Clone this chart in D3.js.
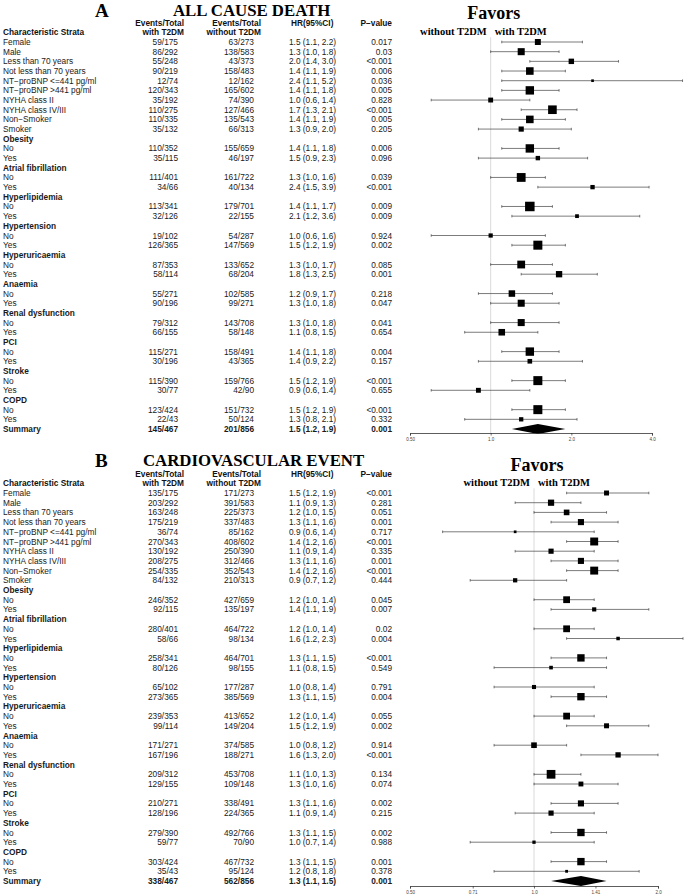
<!DOCTYPE html>
<html>
<head>
<meta charset="utf-8">
<script src="https://cdn.jsdelivr.net/npm/d3@7"></script>
<style>
  body { margin: 0; background: #fff; }
  svg { display: block; }
</style>
</head>
<body>
<script>
/* forest plots: all cause death (A) and cardiovascular event (B) */

// row labels, shared by both panels (null values below mark a group heading)
const strata = ["Female", "Male", "Less than 70 years", "Not less than 70 years",
	"NT\u2212proBNP <=441 pg/ml", "NT\u2212proBNP >441 pg/ml", "NYHA class II", "NYHA class IV/III",
	"Non\u2212Smoker", "Smoker",
	"Obesity", "No", "Yes",
	"Atrial fibrillation", "No", "Yes",
	"Hyperlipidemia", "No", "Yes",
	"Hypertension", "No", "Yes",
	"Hyperuricaemia", "No", "Yes",
	"Anaemia", "No", "Yes",
	"Renal dysfunction", "No", "Yes",
	"PCI", "No", "Yes",
	"Stroke", "No", "Yes",
	"COPD", "No", "Yes",
	"Summary"];

// A: all cause death
const withA = ["59/175", "86/292", "55/248", "90/219", "12/74", "120/343", "35/192", "110/275", "110/335", "35/132",
	null, "110/352", "35/115", null, "111/401", "34/66", null, "113/341", "32/126", null, "19/102", "126/365",
	null, "87/353", "58/114", null, "55/271", "90/196", null, "79/312", "66/155", null, "115/271", "30/196",
	null, "115/390", "30/77", null, "123/424", "22/43", "145/467"];
const withoutA = ["63/273", "138/583", "43/373", "158/483", "12/162", "165/602", "74/390", "127/466", "135/543", "66/313",
	null, "155/659", "46/197", null, "161/722", "40/134", null, "179/701", "22/155", null, "54/287", "147/569",
	null, "133/652", "68/204", null, "102/585", "99/271", null, "143/708", "58/148", null, "158/491", "43/365",
	null, "159/766", "42/90", null, "151/732", "50/124", "201/856"];
const hrA = [1.5, 1.3, 2.0, 1.4, 2.4, 1.4, 1.0, 1.7, 1.4, 1.3,
	null, 1.4, 1.5, null, 1.3, 2.4, null, 1.4, 2.1, null, 1.0, 1.5, null, 1.3, 1.8,
	null, 1.2, 1.3, null, 1.3, 1.1, null, 1.4, 1.4, null, 1.5, 0.9, null, 1.5, 1.3, 1.5];
const lowA = [1.1, 1.0, 1.4, 1.1, 1.1, 1.1, 0.6, 1.3, 1.1, 0.9,
	null, 1.1, 0.9, null, 1.0, 1.5, null, 1.1, 1.2, null, 0.6, 1.2, null, 1.0, 1.3,
	null, 0.9, 1.0, null, 1.0, 0.8, null, 1.1, 0.9, null, 1.2, 0.6, null, 1.2, 0.8, 1.2];
const highA = [2.2, 1.8, 3.0, 1.9, 5.2, 1.8, 1.4, 2.1, 1.9, 2.0,
	null, 1.8, 2.3, null, 1.6, 3.9, null, 1.7, 3.6, null, 1.6, 1.9, null, 1.7, 2.5,
	null, 1.7, 1.8, null, 1.8, 1.5, null, 1.8, 2.2, null, 1.9, 1.4, null, 1.9, 2.1, 1.9];
const pA = ["0.017", "0.03", "<0.001", "0.006", "0.036", "0.005", "0.828", "<0.001", "0.005", "0.205",
	null, "0.006", "0.096", null, "0.039", "<0.001", null, "0.009", "0.009", null, "0.924", "0.002",
	null, "0.085", "0.001", null, "0.218", "0.047", null, "0.041", "0.654", null, "0.004", "0.157",
	null, "<0.001", "0.655", null, "<0.001", "0.332", "0.001"];
const ticksA = [0.5, 1, 2, 4];
const tickLabelsA = ["0.50", "1.0", "2.0", "4.0"];

// B: cardiovascular event
const withB = ["135/175", "203/292", "163/248", "175/219", "36/74", "270/343", "130/192", "208/275", "254/335", "84/132",
	null, "246/352", "92/115", null, "280/401", "58/66", null, "258/341", "80/126", null, "65/102", "273/365",
	null, "239/353", "99/114", null, "171/271", "167/196", null, "209/312", "129/155", null, "210/271", "128/196",
	null, "279/390", "59/77", null, "303/424", "35/43", "338/467"];
const withoutB = ["171/273", "391/583", "225/373", "337/483", "85/162", "408/602", "250/390", "312/466", "352/543", "210/313",
	null, "427/659", "135/197", null, "464/722", "98/134", null, "464/701", "98/155", null, "177/287", "385/569",
	null, "413/652", "149/204", null, "374/585", "188/271", null, "453/708", "109/148", null, "338/491", "224/365",
	null, "492/766", "70/90", null, "467/732", "95/124", "562/856"];
const hrB = [1.5, 1.1, 1.2, 1.3, 0.9, 1.4, 1.1, 1.3, 1.4, 0.9,
	null, 1.2, 1.4, null, 1.2, 1.6, null, 1.3, 1.1, null, 1.0, 1.3, null, 1.2, 1.5,
	null, 1.0, 1.6, null, 1.1, 1.3, null, 1.3, 1.1, null, 1.3, 1.0, null, 1.3, 1.2, 1.3];
const lowB = [1.2, 0.9, 1.0, 1.1, 0.6, 1.2, 0.9, 1.1, 1.2, 0.7,
	null, 1.0, 1.1, null, 1.0, 1.2, null, 1.1, 0.8, null, 0.8, 1.1, null, 1.0, 1.2,
	null, 0.8, 1.3, null, 1.0, 1.0, null, 1.1, 0.9, null, 1.1, 0.7, null, 1.1, 0.8, 1.1];
const highB = [1.9, 1.3, 1.5, 1.6, 1.4, 1.6, 1.4, 1.6, 1.6, 1.2,
	null, 1.4, 1.9, null, 1.4, 2.3, null, 1.5, 1.5, null, 1.4, 1.5, null, 1.4, 1.9,
	null, 1.2, 2.0, null, 1.3, 1.6, null, 1.6, 1.4, null, 1.5, 1.4, null, 1.5, 1.8, 1.5];
const pB = ["<0.001", "0.281", "0.051", "0.001", "0.717", "<0.001", "0.335", "0.001", "<0.001", "0.444",
	null, "0.045", "0.007", null, "0.02", "0.004", null, "<0.001", "0.549", null, "0.791", "0.004",
	null, "0.055", "0.002", null, "0.914", "<0.001", null, "0.134", "0.074", null, "0.002", "0.215",
	null, "0.002", "0.988", null, "0.001", "0.378", "0.001"];
const ticksB = [0.5, 0.71, 1, 1.41, 2];
const tickLabelsB = ["0.50", "0.71", "1.0", "1.41", "2.0"];

const W = 685, H = 895;
const SANS = "'Liberation Sans', Arial, sans-serif";
const SERIF = "'Liberation Serif', 'Times New Roman', serif";

const svg = d3.select("body").append("svg")
	.attr("width", W).attr("height", H)
	.style("background", "#fff");

function drawPanel(p) {
	const rows = strata.map((name, i) => ({
		name: name,
		i: i,
		summary: i === strata.length - 1,
		head: p.hr[i] === null,
		w: p.withT[i], wo: p.withoutT[i],
		hr: p.hr[i], lo: p.low[i], hi: p.high[i], pv: p.pv[i]
	}));

	// row positions
	const y = d3.scaleLinear().domain([0, strata.length - 1]).range([p.firstY, p.lastY]);
	const x = d3.scaleLog().base(2).domain(p.domain).range(p.range);

	const g = svg.append("g");

	// titles
	g.append("text").attr("x", 95).attr("y", p.titleY + 1)
		.style("font-family", SERIF).style("font-weight", "bold").style("font-size", "19px")
		.text(p.letter);
	g.append("text").attr("x", p.titleX).attr("y", p.titleY)
		.style("font-family", SERIF).style("font-weight", "bold").style("font-size", "16.8px")
		.text(p.title);

	// column headers
	const hdr = g.append("g").style("font-family", SANS).style("font-weight", "bold")
		.style("font-size", "8.3px").attr("fill", "#111");
	const top = y(-2) + 3.5, second = y(-1) + 3;
	hdr.append("text").attr("x", 184).attr("y", top).attr("text-anchor", "end").text("Events/Total");
	hdr.append("text").attr("x", 184).attr("y", second).attr("text-anchor", "end").text("with T2DM");
	hdr.append("text").attr("x", 261).attr("y", top).attr("text-anchor", "end").text("Events/Total");
	hdr.append("text").attr("x", 261).attr("y", second).attr("text-anchor", "end").text("without T2DM");
	hdr.append("text").attr("x", 291).attr("y", top).text("HR(95%CI)");
	hdr.append("text").attr("x", 392).attr("y", top).attr("text-anchor", "end").text("P\u2212value");
	hdr.append("text").attr("x", 3).attr("y", second).text("Characteristic Strata");

	// table body
	const tbl = g.append("g").style("font-family", SANS).style("font-size", "8.3px").attr("fill", "#1a1a1a");
	const cell = (sel, xPos, anchor, fn) => sel.append("text")
		.attr("x", xPos).attr("y", d => y(d.i) + 3)
		.attr("text-anchor", anchor)
		.style("font-weight", d => (d.head || d.summary) ? "bold" : "normal")
		.text(fn);

	const line = tbl.selectAll("g.row").data(rows).enter().append("g").attr("class", "row");
	cell(line, 3, "start", d => d.name);
	const vals = line.filter(d => !d.head);
	cell(vals, 178, "end", d => d.w);
	cell(vals, 254, "end", d => d.wo);
	cell(vals, 289, "start", d => `${d.hr.toFixed(1)} (${d.lo.toFixed(1)}, ${d.hi.toFixed(1)})`);
	cell(vals, 392, "end", d => d.pv);

	// favors labels
	const ref = x(1);
	g.append("text").attr("x", ref + 3).attr("y", p.favY)
		.attr("text-anchor", "middle")
		.style("font-family", SERIF).style("font-weight", "bold").style("font-size", "18px")
		.text("Favors");
	g.append("text").attr("x", ref - 4).attr("y", second)
		.attr("text-anchor", "end")
		.style("font-family", SERIF).style("font-weight", "bold").style("font-size", "10.5px")
		.text("without T2DM");
	g.append("text").attr("x", ref + 4).attr("y", second)
		.style("font-family", SERIF).style("font-weight", "bold").style("font-size", "10.5px")
		.text("with T2DM");

	// reference line at HR = 1
	g.append("line")
		.attr("x1", ref).attr("x2", ref)
		.attr("y1", y(-1) + 5).attr("y2", p.axisY)
		.attr("stroke", "#d0d0d0").attr("stroke-width", 0.8);

	// confidence intervals
	const est = rows.filter(d => !d.head && !d.summary);
	const minW = d3.min(est, d => Math.log(d.hi / d.lo));
	const box = d => p.maxBox * minW / Math.log(d.hi / d.lo);
	const ci = g.append("g").selectAll("g").data(est).enter().append("g");
	ci.append("line")
		.attr("x1", d => x(d.lo)).attr("x2", d => x(d.hi))
		.attr("y1", d => y(d.i)).attr("y2", d => y(d.i))
		.attr("stroke", "#444").attr("stroke-width", 0.7);
	[d => x(d.lo), d => x(d.hi)].forEach(fx => {
		ci.append("line")
			.attr("x1", fx).attr("x2", fx)
			.attr("y1", d => y(d.i) - 1.3).attr("y2", d => y(d.i) + 1.3)
			.attr("stroke", "#444").attr("stroke-width", 0.7);
	});
	// boxes sized by precision (1 / CI width on log scale)
	ci.append("rect")
		.attr("x", d => x(d.hr) - box(d) / 2)
		.attr("y", d => y(d.i) - box(d) / 2)
		.attr("width", box)
		.attr("height", box)
		.attr("fill", "#000");

	// summary diamond
	const s = rows[rows.length - 1];
	const sy = y(s.i);
	g.append("path")
		.attr("d", `M${x(s.lo)},${sy}L${x(s.hr)},${sy - 5}L${x(s.hi)},${sy}L${x(s.hr)},${sy + 5}Z`)
		.attr("fill", "#000");

	// x axis
	const axis = g.append("g")
		.attr("transform", `translate(0,${p.axisY})`)
		.call(d3.axisBottom(x).tickValues(p.ticks).tickSize(2.5).tickPadding(2)
			.tickFormat((d, i) => p.tickLabels[i]));
	axis.select(".domain").attr("stroke", "#333").attr("stroke-width", 0.8);
	axis.selectAll(".tick line").attr("stroke", "#333").attr("stroke-width", 0.7);
	axis.selectAll(".tick text")
		.style("font-family", SANS).style("font-size", "4.5px").attr("fill", "#444");
}

drawPanel({
	letter: "A", title: "ALL CAUSE DEATH", titleX: 173, titleY: 15.5, favY: 19,
	firstY: 42, lastY: 429, axisY: 433,
	domain: [0.5, 4], range: [410, 652], ticks: ticksA, tickLabels: tickLabelsA,
	maxBox: 9.5,
	withT: withA, withoutT: withoutA, hr: hrA, low: lowA, high: highA, pv: pA
});

drawPanel({
	letter: "B", title: "CARDIOVASCULAR EVENT", titleX: 143, titleY: 465.5, favY: 471,
	firstY: 493, lastY: 881, axisY: 886,
	domain: [0.5, 2], range: [410, 658], ticks: ticksB, tickLabels: tickLabelsB,
	maxBox: 8.7,
	withT: withB, withoutT: withoutB, hr: hrB, low: lowB, high: highB, pv: pB
});
</script>
</body>
</html>
